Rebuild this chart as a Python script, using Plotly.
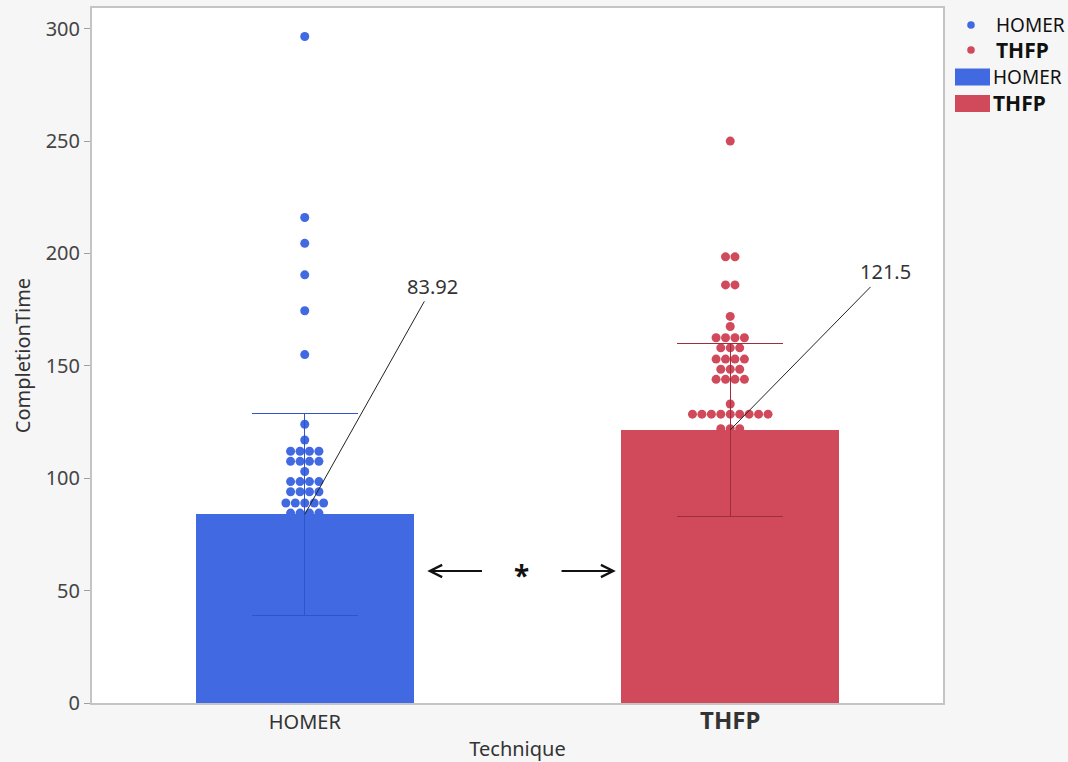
import plotly.graph_objects as go
from collections import Counter

# ---------------- data ----------------
categories = ["HOMER", "THFP"]
mean_time = [83.92, 121.5]
sd_time = [45.0, 38.5]
homer_times = [296.5, 216, 204.5, 190.5, 174.5, 155, 124, 117,
               112, 112, 112, 112, 107.5, 107.5, 107.5, 107.5, 103,
               98.5, 98.5, 98.5, 98.5, 94, 94, 94, 94,
               89, 89, 89, 89, 89, 84.5, 84.5, 84.5, 84.5]
thfp_times = [250, 198.5, 198.5, 186, 186, 172, 167.5,
              162.5, 162.5, 162.5, 162.5, 158, 158, 158,
              153, 153, 153, 153, 148.5, 148.5, 148.5,
              144, 144, 144, 144, 133,
              128.5, 128.5, 128.5, 128.5, 128.5, 128.5, 128.5, 128.5, 128.5,
              122, 122, 122]
point_sets = [homer_times, thfp_times]

bar_colors = ["#4169E1", "#D14A5B"]
err_colors = ["#2F55CC", "#9E2E3E"]

# ---------------- layout constants ----------------
W, H = 1068, 762
ML, MR, MT, MB = 92, 125, 8, 59
YMAX = 309.2
SPACING = 0.0222  # beeswarm horizontal spacing in category units


def swarm_x(center, values):
    counts = Counter(values)
    seen = Counter()
    xs = []
    for v in values:
        n = counts[v]
        i = seen[v]
        seen[v] += 1
        xs.append(center + (i - (n - 1) / 2) * SPACING)
    return xs


fig = go.Figure()

# points (base axes, drawn underneath)
for k, (cat, vals) in enumerate(zip(categories, point_sets)):
    fig.add_trace(go.Scatter(
        x=swarm_x(k, vals), y=vals, mode="markers", name=cat,
        marker=dict(color=bar_colors[k], size=9, line=dict(width=0)),
        showlegend=False, xaxis="x", yaxis="y", hoverinfo="y"))

# bars with error bars (overlay axes, drawn on top of points)
for k, cat in enumerate(categories):
    fig.add_trace(go.Bar(
        x=[k], y=[mean_time[k]], name=cat, width=0.513,
        marker=dict(color=bar_colors[k], line=dict(width=0)),
        error_y=dict(type="data", array=[sd_time[k]], visible=True,
                     color=err_colors[k], thickness=1.2, width=53),
        showlegend=False, xaxis="x2", yaxis="y2"))

fig.update_layout(
    width=W, height=H,
    margin=dict(l=ML, r=MR, t=MT, b=MB),
    paper_bgcolor="#f6f6f6", plot_bgcolor="#ffffff",
    font=dict(family="Noto Sans", size=20, color="#333333"),
    showlegend=False,
    xaxis=dict(range=[-0.5, 1.5], tickvals=[0, 1], automargin=False,
               ticktext=["HOMER", "<b><span style='font-size:24px'>THFP</span></b>"],
               ticks="", showgrid=False, zeroline=False,
               showline=True, mirror=True, linecolor="#c4c4c4", linewidth=2,
               tickfont=dict(size=20, color="#333333"),
               title=dict(text="Technique", font=dict(size=20, color="#333333"), standoff=8)),
    yaxis=dict(range=[0, YMAX], tickvals=[0, 50, 100, 150, 200, 250, 300], automargin=False,
               ticks="outside", ticklen=6, tickcolor="#a0a0a0", tickwidth=1,
               showgrid=False, zeroline=False,
               showline=True, mirror=True, linecolor="#c4c4c4", linewidth=2,
               tickfont=dict(size=20, color="#444444"),
               title=dict(text="CompletionTime", font=dict(size=20, color="#333333"), standoff=10)),
    xaxis2=dict(range=[-0.5, 1.5], overlaying="x", visible=False),
    yaxis2=dict(range=[0, YMAX], overlaying="y", visible=False),
    bargap=0,
)

# mean value labels with leader lines
label_offsets = [(128, -228), (155, -158)]
for k in range(len(categories)):
    fig.add_annotation(
        x=k, y=mean_time[k], xref="x2", yref="y2",
        text=f"{mean_time[k]:g}", showarrow=True, arrowhead=0,
        arrowwidth=1, arrowcolor="#222222",
        ax=label_offsets[k][0], ay=label_offsets[k][1],
        font=dict(size=20, color="#333333"), standoff=0)

# significance marker between bars
sig_y = 58.7
fig.add_annotation(x=0.288, y=sig_y, ax=0.42, ay=sig_y, xref="x2", yref="y2",
                   axref="x2", ayref="y2", text="", showarrow=True,
                   arrowhead=5, arrowsize=1.2, arrowwidth=2, arrowcolor="#111111")
fig.add_annotation(x=0.731, y=sig_y, ax=0.60, ay=sig_y, xref="x2", yref="y2",
                   axref="x2", ayref="y2", text="", showarrow=True,
                   arrowhead=5, arrowsize=1.2, arrowwidth=2, arrowcolor="#111111")
fig.add_annotation(x=0.51, y=sig_y, xref="x2", yref="y2", text="<b>*</b>",
                   showarrow=False, yshift=-4, font=dict(size=28, color="#111111"))

# custom legend (paper coordinates derived from pixel layout)
PW = W - ML - MR
PH = H - MT - MB


def px(xp):
    return (xp - ML) / PW


def py(yp):
    return (H - MB - yp) / PH


legend_items = [
    ("dot", 0, "HOMER", 25),
    ("dot", 1, "<b>THFP</b>", 50),
    ("rect", 0, "HOMER", 77),
    ("rect", 1, "<b>THFP</b>", 103.5),
]
for kind, k, label, yc in legend_items:
    if kind == "dot":
        fig.add_shape(type="circle", xref="paper", yref="paper",
                      xsizemode="pixel", ysizemode="pixel",
                      xanchor=px(971), yanchor=py(yc),
                      x0=-3.8, x1=3.8, y0=-3.8, y1=3.8,
                      fillcolor=bar_colors[k], line=dict(width=0))
        tx = 994
    else:
        fig.add_shape(type="rect", xref="paper", yref="paper",
                      x0=px(955), x1=px(990), y0=py(yc - 8.5), y1=py(yc + 8.5),
                      fillcolor=bar_colors[k], line=dict(width=0))
        tx = 991
    fig.add_annotation(x=px(tx), y=py(yc), xref="paper", yref="paper",
                       text=label, showarrow=False, xanchor="left", yanchor="middle",
                       font=dict(size=19 if k == 0 else 21, color="#111111"))

fig.write_html("out.html")
